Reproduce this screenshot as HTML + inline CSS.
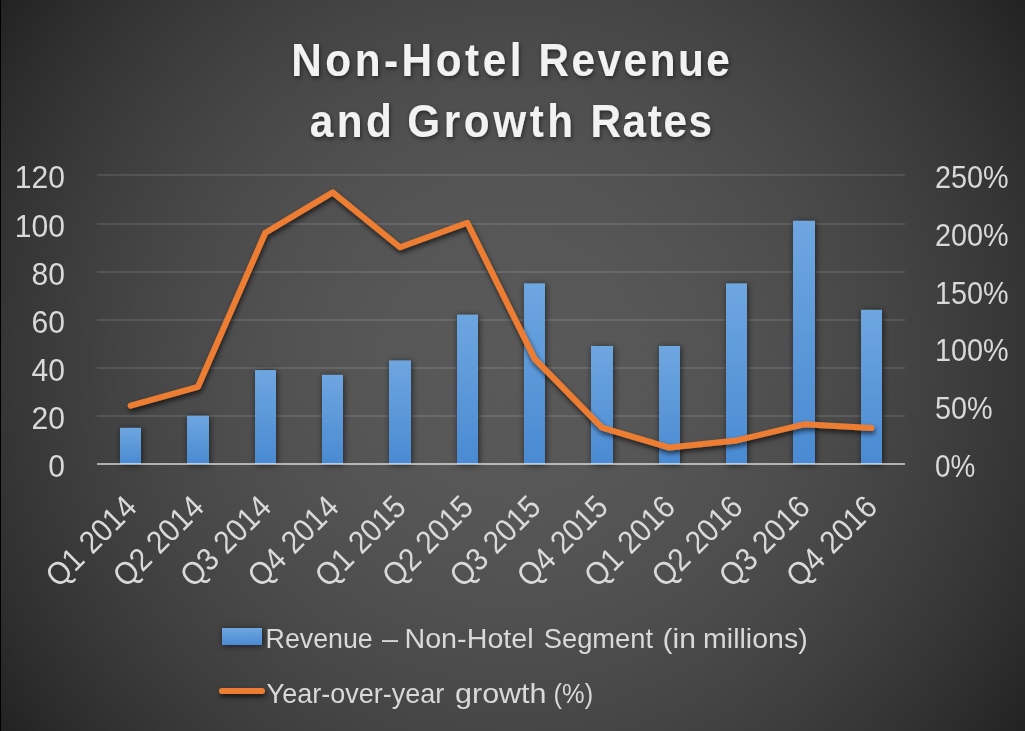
<!DOCTYPE html>
<html><head><meta charset="utf-8"><style>
html,body{margin:0;padding:0;background:#262626;}
body{width:1025px;height:731px;overflow:hidden;position:relative;}
.bg{position:absolute;left:0;top:0;width:1025px;height:731px;background:radial-gradient(circle 629px at 512.5px 365.5px, rgb(89,89,89) 0%, rgb(88,88,88) 10%, rgb(87,87,87) 20%, rgb(84,84,84) 30%, rgb(80,80,80) 40%, rgb(75,75,75) 50%, rgb(69,69,69) 60%, rgb(62,62,62) 70%, rgb(54,54,54) 80%, rgb(45,45,45) 90%, rgb(34,34,34) 100%);}
svg{position:absolute;left:0;top:0;will-change:transform;}
text{font-family:"Liberation Sans",sans-serif;}
</style></head><body><div class="bg"></div>
<svg width="1025" height="731" viewBox="0 0 1025 731">
<defs>
<linearGradient id="bar" x1="0" y1="0" x2="0" y2="1">
<stop offset="0" stop-color="#6ea6e0"/><stop offset="1" stop-color="#4a8ad2"/>
</linearGradient>
<linearGradient id="leg" x1="0" y1="0" x2="0" y2="1">
<stop offset="0" stop-color="#6ea6e0"/><stop offset="1" stop-color="#4a8ad2"/>
</linearGradient>
<filter id="sh" filterUnits="userSpaceOnUse" x="0" y="0" width="1025" height="731">
<feGaussianBlur in="SourceAlpha" stdDeviation="3"/><feOffset dx="0.5" dy="0.5"/>
<feComponentTransfer><feFuncA type="linear" slope="0.6"/></feComponentTransfer>
<feMerge><feMergeNode/><feMergeNode in="SourceGraphic"/></feMerge>
</filter>
<filter id="lsh" filterUnits="userSpaceOnUse" x="0" y="0" width="1025" height="731">
<feGaussianBlur in="SourceAlpha" stdDeviation="2.5"/><feOffset dx="0.5" dy="3"/>
<feComponentTransfer><feFuncA type="linear" slope="0.65"/></feComponentTransfer>
<feMerge><feMergeNode/><feMergeNode in="SourceGraphic"/></feMerge>
</filter>
<filter id="tsh" filterUnits="userSpaceOnUse" x="0" y="0" width="1025" height="731">
<feGaussianBlur in="SourceAlpha" stdDeviation="2.2"/><feOffset dx="1.2" dy="1.8"/>
<feComponentTransfer><feFuncA type="linear" slope="0.5"/></feComponentTransfer>
<feMerge><feMergeNode/><feMergeNode in="SourceGraphic"/></feMerge>
</filter>
</defs>
<rect x="0" y="0" width="1" height="731" fill="#000"/>

<rect x="97.0" y="174" width="808.0" height="2" fill="#ffffff" fill-opacity="0.1"/>
<rect x="97.0" y="223" width="808.0" height="2" fill="#ffffff" fill-opacity="0.1"/>
<rect x="97.0" y="271" width="808.0" height="2" fill="#ffffff" fill-opacity="0.1"/>
<rect x="97.0" y="319" width="808.0" height="2" fill="#ffffff" fill-opacity="0.1"/>
<rect x="97.0" y="367" width="808.0" height="2" fill="#ffffff" fill-opacity="0.1"/>
<rect x="97.0" y="415" width="808.0" height="2" fill="#ffffff" fill-opacity="0.1"/>
<rect x="120" y="427.88" width="21" height="36.12" fill="url(#bar)" filter="url(#sh)"/>
<rect x="187" y="415.83" width="22" height="48.17" fill="url(#bar)" filter="url(#sh)"/>
<rect x="255" y="370.07" width="21" height="93.93" fill="url(#bar)" filter="url(#sh)"/>
<rect x="322" y="374.89" width="21" height="89.11" fill="url(#bar)" filter="url(#sh)"/>
<rect x="389" y="360.44" width="22" height="103.56" fill="url(#bar)" filter="url(#sh)"/>
<rect x="457" y="314.68" width="21" height="149.32" fill="url(#bar)" filter="url(#sh)"/>
<rect x="524" y="283.38" width="21" height="180.62" fill="url(#bar)" filter="url(#sh)"/>
<rect x="591" y="345.99" width="22" height="118.01" fill="url(#bar)" filter="url(#sh)"/>
<rect x="659" y="345.99" width="21" height="118.01" fill="url(#bar)" filter="url(#sh)"/>
<rect x="726" y="283.38" width="21" height="180.62" fill="url(#bar)" filter="url(#sh)"/>
<rect x="793" y="220.76" width="22" height="243.24" fill="url(#bar)" filter="url(#sh)"/>
<rect x="861" y="309.87" width="21" height="154.13" fill="url(#bar)" filter="url(#sh)"/>
<rect x="97.0" y="463.0" width="808.0" height="2" fill="#ffffff" fill-opacity="0.58"/>
<polyline points="130.67,405.62 198.00,386.78 265.33,232.80 332.67,192.34 400.00,247.25 467.33,222.74 534.67,358.80 602.00,427.59 669.33,447.58 736.67,440.42 804.00,424.35 871.33,428.05" fill="none" stroke="#ed7d31" stroke-width="6" stroke-linejoin="round" stroke-linecap="round" filter="url(#lsh)"/>
<text transform="translate(65,477.00) scale(0.94,1)" font-size="32" fill="#d9d9d9" text-anchor="end">0</text>
<text transform="translate(65,429.00) scale(0.94,1)" font-size="32" fill="#d9d9d9" text-anchor="end">20</text>
<text transform="translate(65,381.00) scale(0.94,1)" font-size="32" fill="#d9d9d9" text-anchor="end">40</text>
<text transform="translate(65,333.00) scale(0.94,1)" font-size="32" fill="#d9d9d9" text-anchor="end">60</text>
<text transform="translate(65,285.00) scale(0.94,1)" font-size="32" fill="#d9d9d9" text-anchor="end">80</text>
<text transform="translate(65,237.00) scale(0.94,1)" font-size="32" fill="#d9d9d9" text-anchor="end">100</text>
<text transform="translate(65,188.00) scale(0.94,1)" font-size="32" fill="#d9d9d9" text-anchor="end">120</text>
<text transform="translate(935,477.00) scale(0.873,1)" font-size="32" fill="#d9d9d9">0%</text>
<text transform="translate(935,419.20) scale(0.9,1)" font-size="32" fill="#d9d9d9">50%</text>
<text transform="translate(935,361.40) scale(0.9,1)" font-size="32" fill="#d9d9d9">100%</text>
<text transform="translate(935,303.60) scale(0.9,1)" font-size="32" fill="#d9d9d9">150%</text>
<text transform="translate(935,245.80) scale(0.9,1)" font-size="32" fill="#d9d9d9">200%</text>
<text transform="translate(935,188.00) scale(0.9,1)" font-size="32" fill="#d9d9d9">250%</text>
<text transform="translate(138.50,509) rotate(-45) scale(0.92,1)" font-size="32" fill="#d9d9d9" text-anchor="end">Q1 2014</text>
<text transform="translate(205.83,509) rotate(-45) scale(0.92,1)" font-size="32" fill="#d9d9d9" text-anchor="end">Q2 2014</text>
<text transform="translate(273.16,509) rotate(-45) scale(0.92,1)" font-size="32" fill="#d9d9d9" text-anchor="end">Q3 2014</text>
<text transform="translate(340.50,509) rotate(-45) scale(0.92,1)" font-size="32" fill="#d9d9d9" text-anchor="end">Q4 2014</text>
<text transform="translate(407.83,509) rotate(-45) scale(0.92,1)" font-size="32" fill="#d9d9d9" text-anchor="end">Q1 2015</text>
<text transform="translate(475.16,509) rotate(-45) scale(0.92,1)" font-size="32" fill="#d9d9d9" text-anchor="end">Q2 2015</text>
<text transform="translate(542.50,509) rotate(-45) scale(0.92,1)" font-size="32" fill="#d9d9d9" text-anchor="end">Q3 2015</text>
<text transform="translate(609.83,509) rotate(-45) scale(0.92,1)" font-size="32" fill="#d9d9d9" text-anchor="end">Q4 2015</text>
<text transform="translate(677.16,509) rotate(-45) scale(0.92,1)" font-size="32" fill="#d9d9d9" text-anchor="end">Q1 2016</text>
<text transform="translate(744.50,509) rotate(-45) scale(0.92,1)" font-size="32" fill="#d9d9d9" text-anchor="end">Q2 2016</text>
<text transform="translate(811.83,509) rotate(-45) scale(0.92,1)" font-size="32" fill="#d9d9d9" text-anchor="end">Q3 2016</text>
<text transform="translate(879.16,509) rotate(-45) scale(0.92,1)" font-size="32" fill="#d9d9d9" text-anchor="end">Q4 2016</text>
<g filter="url(#tsh)">
<text transform="translate(291.24,76) scale(0.92,1)" font-size="46" font-weight="bold" fill="#f2f2f2" letter-spacing="3.815">Non-Hotel</text>
<text transform="translate(538.54,76) scale(0.92,1)" font-size="46" font-weight="bold" fill="#f2f2f2" letter-spacing="2.705">Revenue</text>
<text transform="translate(309.85,137) scale(0.92,1)" font-size="46" font-weight="bold" fill="#f2f2f2" letter-spacing="3.641">and</text>
<text transform="translate(407.19,137) scale(0.92,1)" font-size="46" font-weight="bold" fill="#f2f2f2" letter-spacing="3.896">Growth</text>
<text transform="translate(590.44,137) scale(0.92,1)" font-size="46" font-weight="bold" fill="#f2f2f2" letter-spacing="1.75">Rates</text>
</g>
<rect x="222" y="628" width="40" height="17" fill="url(#leg)" filter="url(#sh)"/>
<line x1="222" y1="691" x2="262" y2="691" stroke="#ed7d31" stroke-width="6" stroke-linecap="round" filter="url(#lsh)"/>
<text transform="translate(265.55,648) scale(0.9567,1)" font-size="28" fill="#d9d9d9">Revenue</text>
<text transform="translate(382.0,648) scale(1.0323,1)" font-size="28" fill="#d9d9d9">–</text>
<text transform="translate(404.39,648) scale(1.0262,1)" font-size="28" fill="#d9d9d9">Non-Hotel</text>
<text transform="translate(543.78,648) scale(0.9752,1)" font-size="28" fill="#d9d9d9">Segment</text>
<text transform="translate(662.52,648) scale(1.0764,1)" font-size="28" fill="#d9d9d9">(in</text>
<text transform="translate(703.12,648) scale(1.0186,1)" font-size="28" fill="#d9d9d9">millions)</text>
<text transform="translate(266.58,703) scale(0.9656,1)" font-size="28" fill="#d9d9d9">Year-over-year</text>
<text transform="translate(455.04,703) scale(1.0889,1)" font-size="28" fill="#d9d9d9">growth</text>
<text transform="translate(553.61,703) scale(0.9068,1)" font-size="28" fill="#d9d9d9">(%)</text>
</svg></body></html>
